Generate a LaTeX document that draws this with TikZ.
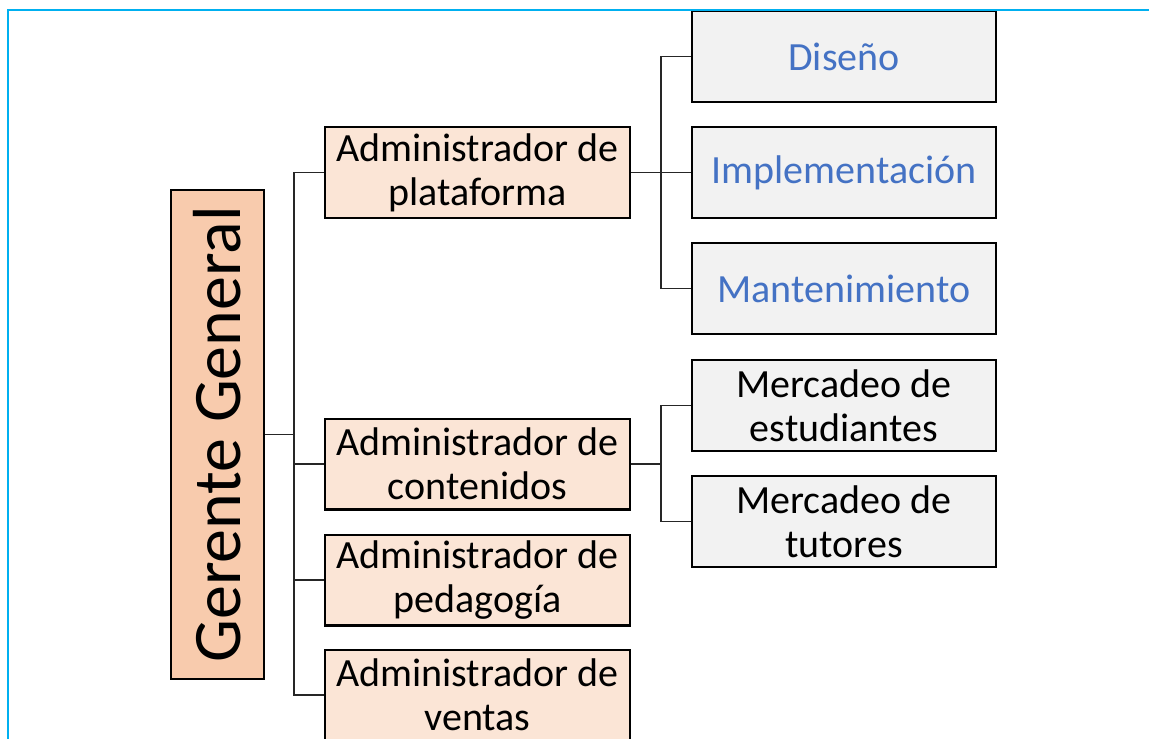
\documentclass[tikz,border=0pt]{standalone}
\usepackage{fontspec}
\setmainfont{Carlito}
\usetikzlibrary{positioning}
\definecolor{chieffill}{HTML}{F8CBAD}
\definecolor{adminfill}{HTML}{FBE5D6}
\definecolor{taskfill}{HTML}{F2F2F2}
\definecolor{taskblue}{HTML}{4472C4}
\definecolor{framecyan}{HTML}{00B0F0}
\tikzstyle{chief} = [rectangle,minimum width=92.6pt,minimum height=488.6pt,inner sep=0pt,draw=black,line width=2.4pt,fill=chieffill,font=\fontsize{68pt}{72pt}\selectfont]
\tikzstyle{admin} = [rectangle,minimum width=304.6pt,minimum height=90.6pt,inner sep=2pt,draw=black,line width=2.4pt,fill=adminfill,align=center,font=\fontsize{40pt}{44pt}\selectfont]
\tikzstyle{task} = [rectangle,minimum width=303.6pt,minimum height=90.6pt,inner sep=2pt,draw=black,line width=2.4pt,fill=taskfill,align=center,font=\fontsize{40pt}{44pt}\selectfont]
\tikzstyle{link} = [draw=black!85,line width=1.2pt]

\begin{document}
\begin{tikzpicture}[x=1pt,y=-1pt,node distance=23pt]
    \useasboundingbox (0,0) rectangle (1149,739);

    % Manager
    \node[chief] (gerente) at (217.5,434.5) {\rotatebox{90}{Gerente General}};

    % Administrators
    \node[admin] (plat) at (477.5,172.5) {Administrador de\\plataforma};
    \node[admin] (cont) at (477.5,464) {Administrador de\\contenidos};
    \node[admin,below=of cont] (peda) {Administrador de\\pedagogía};
    \node[admin,below=22pt of peda] (vent) {Administrador de\\ventas};

    % Tasks
    \node[task,right=60pt of plat,text=taskblue] (impl) {Implementación};
    \node[task,above=of impl,text=taskblue] (dis) {Diseño};
    \node[task,below=of impl,text=taskblue] (mant) {Mantenimiento};
    \node[task,right=60pt of cont,yshift=58.5pt] (mest) {Mercadeo de\\estudiantes};
    \node[task,below=of mest] (mtut) {Mercadeo de\\tutores};

    % links
    \draw[link] (gerente.east) -- ++(29pt,0) coordinate (gtrunk);
    \foreach \n in {plat,cont,peda,vent}
        \draw[link] (gtrunk) |- (\n.west);
    \draw[link] (plat.east) -- ++(30pt,0) coordinate (ptrunk);
    \foreach \n in {dis,impl,mant}
        \draw[link] (ptrunk) |- (\n.west);
    \draw[link] (cont.east) -- ++(30pt,0) coordinate (ctrunk);
    \foreach \n in {mest,mtut}
        \draw[link] (ctrunk) |- (\n.west);

    % frame
    \draw[framecyan,line width=2pt] (8,739) -- (8,10) -- (1149,10);
\end{tikzpicture}
\end{document}
